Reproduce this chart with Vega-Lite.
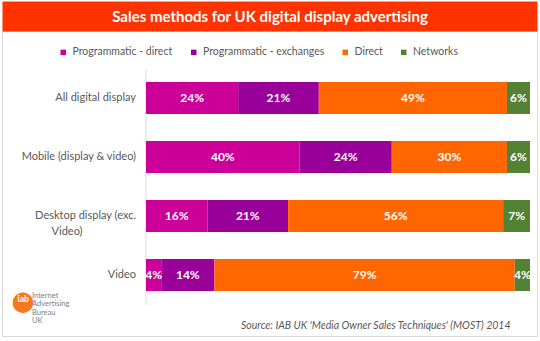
{
  "$schema": "https://vega.github.io/schema/vega-lite/v6.json",
  "width": 535,
  "height": 305,
  "autosize": "none",
  "padding": {"left": 2, "top": 31, "right": 3, "bottom": 5},
  "background": "white",
  "config": {"view": {"stroke": "#D9D9D9", "strokeWidth": 1}, "font": "Lato"},
  "title": {"text": "iab", "orient": "bottom", "anchor": "start", "frame": "group", "offset": -41, "dx": 15.5, "color": "white", "fontSize": 8.5, "fontWeight": "bold", "font": "Lato"},
  "data": {"values": [
    {"cat": "All digital display", "method": "Programmatic - direct", "ord": 1, "share": 0.24},
    {"cat": "All digital display", "method": "Programmatic - exchanges", "ord": 2, "share": 0.21},
    {"cat": "All digital display", "method": "Direct", "ord": 3, "share": 0.49},
    {"cat": "All digital display", "method": "Networks", "ord": 4, "share": 0.06},
    {"cat": "Mobile (display & video)", "method": "Programmatic - direct", "ord": 1, "share": 0.40},
    {"cat": "Mobile (display & video)", "method": "Programmatic - exchanges", "ord": 2, "share": 0.24},
    {"cat": "Mobile (display & video)", "method": "Direct", "ord": 3, "share": 0.30},
    {"cat": "Mobile (display & video)", "method": "Networks", "ord": 4, "share": 0.06},
    {"cat": "Desktop display (exc. Video)", "method": "Programmatic - direct", "ord": 1, "share": 0.16},
    {"cat": "Desktop display (exc. Video)", "method": "Programmatic - exchanges", "ord": 2, "share": 0.21},
    {"cat": "Desktop display (exc. Video)", "method": "Direct", "ord": 3, "share": 0.56},
    {"cat": "Desktop display (exc. Video)", "method": "Networks", "ord": 4, "share": 0.07},
    {"cat": "Video", "method": "Programmatic - direct", "ord": 1, "share": 0.04},
    {"cat": "Video", "method": "Programmatic - exchanges", "ord": 2, "share": 0.14},
    {"cat": "Video", "method": "Direct", "ord": 3, "share": 0.79},
    {"cat": "Video", "method": "Networks", "ord": 4, "share": 0.04}
  ]},
  "layer": [
    {
      "mark": {"type": "bar"},
      "encoding": {
        "y": {
          "field": "cat", "type": "nominal",
          "sort": ["All digital display", "Mobile (display & video)", "Desktop display (exc. Video)", "Video"],
          "scale": {"range": [37.5, 273.5], "paddingInner": 0.4576, "paddingOuter": 0.2288},
          "axis": {
            "orient": "left", "offset": -143.5, "domain": true, "domainColor": "#D9D9D9", "ticks": false, "grid": false,
            "labelPadding": 10, "labelFontSize": 11, "labelColor": "#595959", "labelFont": "Lato", "labelLineHeight": 15.5,
            "labelExpr": "datum.value == 'Desktop display (exc. Video)' ? ['Desktop display (exc.', 'Video)\u00a0\u00a0\u00a0\u00a0\u00a0\u00a0\u00a0\u00a0\u00a0\u00a0\u00a0\u00a0\u00a0\u00a0\u00a0\u00a0\u00a0\u00a0\u00a0\u200b'] : datum.value",
            "title": ["Internet", "Advertising", "Bureau", "UK"],
            "titleAngle": 0, "titleX": -114, "titleY": 260.5, "titleAlign": "left", "titleBaseline": "top",
            "titleFontSize": 7.5, "titleFontWeight": "normal", "titleColor": "#808080", "titleLineHeight": 8.4, "titleFont": "Lato"
          }
        },
        "x": {
          "field": "share", "type": "quantitative", "stack": "normalize",
          "scale": {"domain": [-0.375, 1.0182], "nice": false, "zero": false},
          "axis": {
            "orient": "bottom", "domain": false, "ticks": false, "labels": false, "grid": false,
            "title": "Source: IAB UK 'Media Owner Sales Techniques' (MOST) 2014",
            "titleFontStyle": "italic", "titleFontWeight": "normal", "titleFontSize": 10.5, "titleColor": "#595959", "titleFont": "Lato",
            "titleX": 508, "titleY": -10.5, "titleAlign": "right", "titleBaseline": "middle"
          }
        },
        "color": {
          "field": "method", "type": "nominal",
          "scale": {
            "domain": ["Programmatic - direct", "Programmatic - exchanges", "Direct", "Networks"],
            "range": ["#CC0099", "#990099", "#FF6600", "#548235"]
          },
          "legend": {
            "orient": "none", "legendX": 56, "legendY": 16, "direction": "horizontal", "title": null,
            "symbolType": "square", "symbolSize": 30, "symbolStrokeWidth": 0, "labelFontSize": 10.5,
            "labelColor": "#595959", "labelFont": "Lato", "columnPadding": 15.5, "labelOffset": 4, "padding": 0
          }
        },
        "order": {"field": "ord", "type": "quantitative"}
      }
    },
    {
      "mark": {"type": "text", "color": "white", "fontWeight": "bold", "fontSize": 12, "font": "Lato"},
      "encoding": {
        "y": {
          "field": "cat", "type": "nominal",
          "sort": ["All digital display", "Mobile (display & video)", "Desktop display (exc. Video)", "Video"],
          "axis": {
            "orient": "right", "domain": false, "ticks": false, "labels": false, "grid": false,
            "title": "⬤", "titleColor": "#F47920", "titleFontSize": 20, "titleFont": "DejaVu Sans", "titleAngle": 0,
            "titleX": -514.5, "titleY": 270.5, "titleAlign": "center", "titleBaseline": "middle", "titleFontWeight": "normal"
          }
        },
        "x": {
          "field": "share", "type": "quantitative", "stack": "normalize", "bandPosition": 0.5,
          "axis": {
            "orient": "top", "offset": 15, "domain": true, "domainColor": "#FF3300", "domainWidth": 30, "ticks": false,
            "labels": false, "grid": false,
            "title": "Sales methods for UK digital display advertising",
            "titleColor": "white", "titleFont": "Lato", "titleFontSize": 15, "titleFontWeight": "bold",
            "titleX": 267.5, "titleY": 0, "titleAlign": "center", "titleBaseline": "middle"
          }
        },
        "detail": {"field": "method"},
        "order": {"field": "ord", "type": "quantitative"},
        "text": {"field": "share", "type": "quantitative", "format": ".0%"}
      }
    }
  ],
  "resolve": {"axis": {"x": "independent", "y": "independent"}}
}
